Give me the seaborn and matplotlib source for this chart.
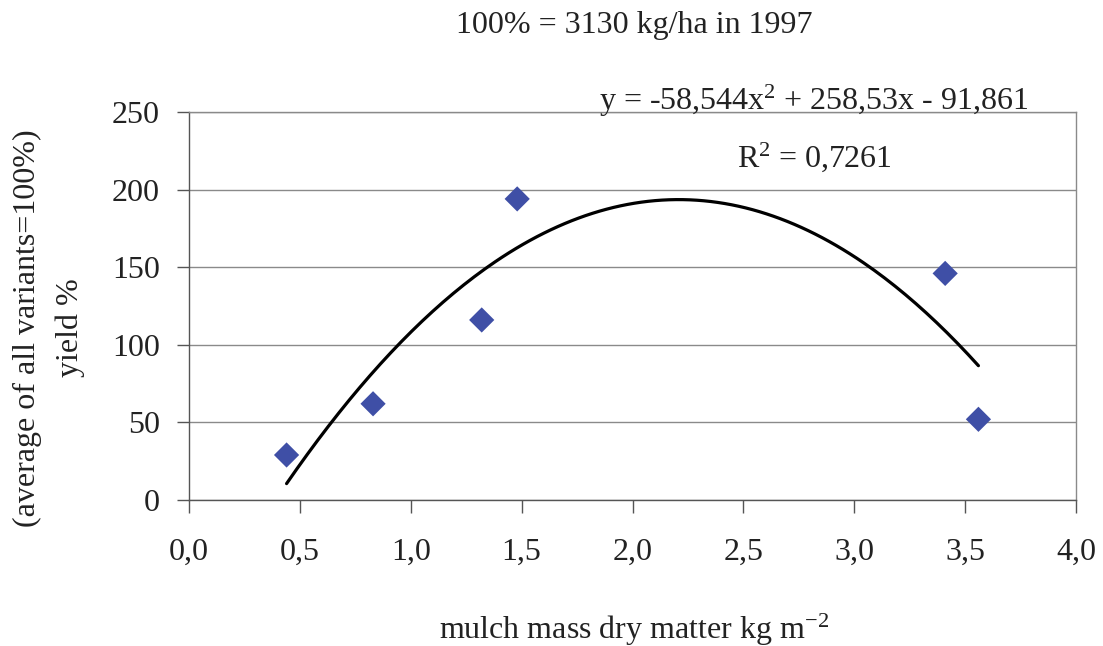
import numpy as np
import pandas as pd
import seaborn as sns
import matplotlib
matplotlib.use("Agg")
import matplotlib.pyplot as plt

# data
mulch_mass = [0.44, 0.83, 1.32, 1.48, 3.41, 3.56]
yield_pct = [29, 62, 116, 194, 146, 52]
trend_coefs = [-58.544, 258.53, -91.861]   # displayed trendline y = a x^2 + b x + c
x_ticks = [0.0, 0.5, 1.0, 1.5, 2.0, 2.5, 3.0, 3.5, 4.0]
x_tick_labels = ["0,0", "0,5", "1,0", "1,5", "2,0", "2,5", "3,0", "3,5", "4,0"]
y_ticks = [0, 50, 100, 150, 200, 250]
y_tick_labels = ["0", "50", "100", "150", "200", "250"]

sns.set_theme(style="white")
plt.rcParams['font.family'] = ['Liberation Serif', 'DejaVu Serif']
plt.rcParams['mathtext.fontset'] = 'custom'
plt.rcParams['mathtext.rm'] = 'Liberation Serif'
plt.rcParams['mathtext.it'] = 'Liberation Serif'

FS = 23
TXT = "#222222"

fig = plt.figure(figsize=(11.03, 6.46), dpi=100)
ax = fig.add_axes([189/1103, 1-500/646, (1076-189)/1103, (500-112)/646])

df = pd.DataFrame({"x": mulch_mass, "y": yield_pct})
xs = np.linspace(min(mulch_mass), max(mulch_mass), 200)
trend = pd.DataFrame({"x": xs, "y": np.polyval(trend_coefs, xs)})

sns.lineplot(data=trend, x="x", y="y", ax=ax, color="black", linewidth=2.3, zorder=3)
sns.scatterplot(data=df, x="x", y="y", ax=ax, marker="D", s=165, color="#3F4FA6",
                edgecolor="none", zorder=4)

ax.set_xlim(0, 4)
ax.set_ylim(0, 250)
ax.set_xticks(x_ticks)
ax.set_xticklabels(x_tick_labels)
ax.set_yticks(y_ticks)
ax.set_yticklabels(y_tick_labels)
ax.tick_params(axis="both", labelsize=FS, labelcolor=TXT, color="#555555",
               direction="out", length=9, width=1, bottom=True, left=True)
ax.tick_params(axis="x", pad=18)
ax.tick_params(axis="y", pad=12)
ax.yaxis.grid(True, color="#8a8a8a", linewidth=1)
ax.xaxis.grid(False)
ax.set_axisbelow(True)
for side in ["left", "bottom"]:
    ax.spines[side].set_color("#555555")
    ax.spines[side].set_linewidth(1)
for side in ["top", "right"]:
    ax.spines[side].set_color("#8a8a8a")
    ax.spines[side].set_linewidth(1)

ax.set_xlabel("")
ax.set_ylabel("")

fig.text(634/1103, 1-25/646, "100% = 3130 kg/ha in 1997", ha="center", va="center",
         fontsize=FS, color=TXT)
fig.text(634/1103, 1-630/646, r"mulch mass dry matter kg m$^{-2}$", ha="center", va="center",
         fontsize=FS, color=TXT)
fig.text(27/1103, 1-328/646, "(average of all variants=100%)", ha="center", va="center",
         rotation=90, fontsize=FS, color=TXT)
fig.text(70/1103, 1-328/646, "yield %", ha="center", va="center",
         rotation=90, fontsize=FS, color=TXT)
fig.text(814/1103, 1-101/646, r"y = -58,544x$^{2}$ + 258,53x - 91,861", ha="center", va="center",
         fontsize=FS, color=TXT)
fig.text(814/1103, 1-157/646, r"R$^{2}$ = 0,7261", ha="center", va="center",
         fontsize=FS, color=TXT)

fig.savefig("out.png", dpi=100)
